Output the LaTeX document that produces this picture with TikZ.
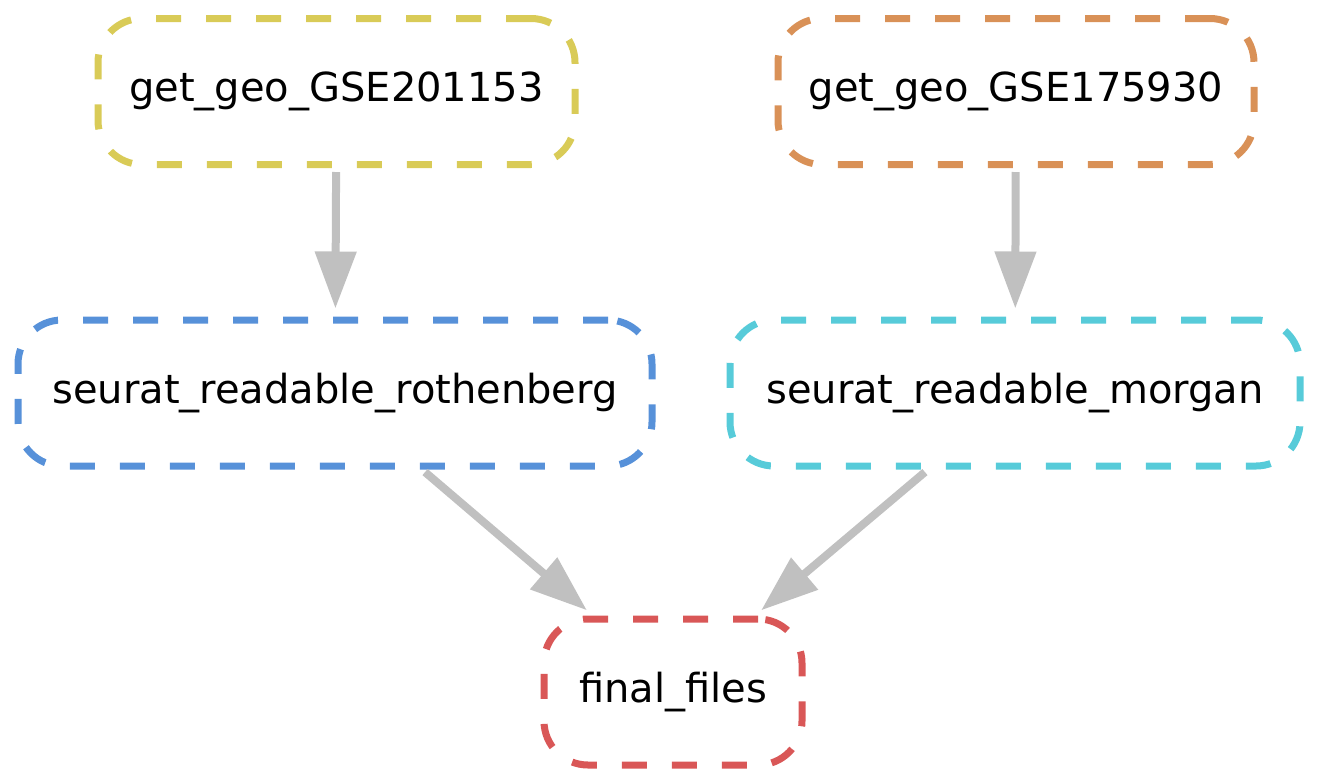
\documentclass[tikz,border=0pt]{standalone}
\usepackage{fontspec}
\setmainfont{DejaVu Sans}
\usetikzlibrary{arrows.meta}

\definecolor{rulered}{RGB}{217,87,87}
\definecolor{ruleorange}{RGB}{217,145,87}
\definecolor{ruleyellow}{RGB}{217,203,87}
\definecolor{rulecyan}{RGB}{87,203,217}
\definecolor{ruleblue}{RGB}{87,145,217}
\definecolor{edgegray}{RGB}{192,192,192}

\tikzset{
    rulebox/.style={draw, rectangle, rounded corners=22pt, line width=3.5pt,
        dash pattern=on 12.5pt off 12.5pt, minimum height=73pt,
        font=\fontsize{20pt}{24pt}\selectfont},
    dep/.style={-{Triangle[length=28.5pt, width=20pt]}, edgegray, line width=4pt,
        shorten >=4pt, shorten <=2pt}
}

\begin{document}
\begin{tikzpicture}[x=0.5pt, y=-0.5pt]
            \useasboundingbox (0,0) rectangle (1318,783);

            % Download rules
            \node[rulebox, ruleyellow, text=black, minimum width=238.5pt] (geoA) at (336.5,91.5) {get\_geo\_GSE201153};
            \node[rulebox, ruleorange, text=black, minimum width=238pt] (geoB) at (1016,91.5) {get\_geo\_GSE175930};

            % Seurat rules
            \node[rulebox, ruleblue, text=black, minimum width=317pt] (rothenberg) at (335,393) {seurat\_readable\_rothenberg};
            \node[rulebox, rulecyan, text=black, minimum width=285pt] (morgan) at (1015,393) {seurat\_readable\_morgan};

            % Target
            \node[rulebox, rulered, text=black, minimum width=129pt] (final) at (673,692) {final\_files};

            % Dependencies
            \draw[dep] (geoA) -- (rothenberg);
            \draw[dep] (geoB) -- (morgan);
            \draw[dep] ([xshift=43.5pt]rothenberg.south) -- ([xshift=-40pt]final.north);
            \draw[dep] ([xshift=-43.5pt]morgan.south) -- ([xshift=41pt]final.north);
        \end{tikzpicture}
\end{document}
